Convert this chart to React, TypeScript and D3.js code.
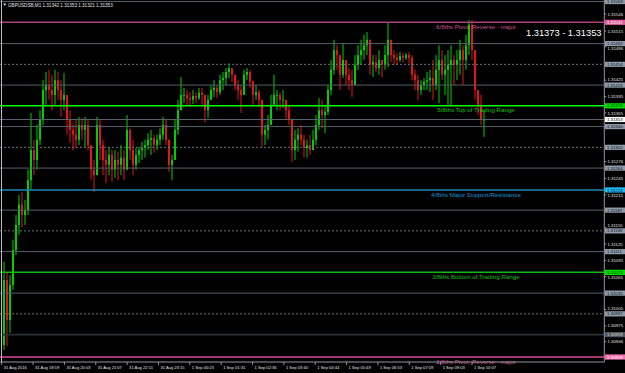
import React from "react";
import * as d3 from "d3";

// ---- data ----
const symbolTitle = "GBPUSDSB,M1  1.31342 1.31353 1.31321 1.31353";
const rangeText = "1.31373 - 1.31353";
const firstOpen = 1.3094;

const highs = [
  1.31092, 1.31072, 1.31068, 1.31133, 1.31178, 1.31215, 1.3122, 1.31206, 1.31261, 1.31365,
  1.31316, 1.31343, 1.3137, 1.31425, 1.3144, 1.31444, 1.31435, 1.31444, 1.3144, 1.31425,
  1.31438, 1.31389, 1.3137, 1.31343, 1.31352, 1.31358, 1.31356, 1.31358, 1.31352, 1.31306,
  1.31279, 1.31358, 1.31352, 1.31316, 1.31297, 1.31301, 1.31297, 1.31297, 1.31294, 1.31306,
  1.31297, 1.31361, 1.31337, 1.31316, 1.31301, 1.31303, 1.31312, 1.31316, 1.31328, 1.31334,
  1.31325, 1.31325, 1.31337, 1.31358, 1.31352, 1.31316, 1.31288, 1.31352, 1.31389, 1.31431,
  1.31411, 1.31407, 1.31403, 1.31407, 1.31403, 1.31411, 1.31411, 1.31398, 1.31398, 1.31416,
  1.31425, 1.31416, 1.31435, 1.3144, 1.31447, 1.31456, 1.31447, 1.31435, 1.31425, 1.31416,
  1.31444, 1.31447, 1.31444, 1.31425, 1.31416, 1.31407, 1.3137, 1.31343, 1.31361, 1.31398,
  1.31435, 1.31407, 1.31403, 1.31407, 1.31389, 1.3138, 1.31352, 1.31334, 1.31337, 1.31343,
  1.31325, 1.31316, 1.31325, 1.31334, 1.31361, 1.31392, 1.31389, 1.3138, 1.31416, 1.31462,
  1.31499, 1.31489, 1.31471, 1.31493, 1.31453, 1.31447, 1.31444, 1.31471, 1.31489, 1.31499,
  1.31508, 1.31513, 1.31489, 1.31471, 1.31471, 1.3148, 1.31462, 1.31489, 1.3153, 1.31489,
  1.3148, 1.31475, 1.31477, 1.31475, 1.31475, 1.31477, 1.31471, 1.31444, 1.31435, 1.31425,
  1.31429, 1.3144, 1.31444, 1.31462, 1.31471, 1.31489, 1.3148, 1.31471, 1.3148, 1.31489,
  1.31471, 1.3148, 1.31499, 1.31489, 1.31508, 1.31535, 1.31535, 1.3148, 1.31407, 1.31398,
  1.3137,
];
const lows = [
  1.30931, 1.30937, 1.30962, 1.31041, 1.31105, 1.31142, 1.31155, 1.3116, 1.31178, 1.31224,
  1.31251, 1.31261, 1.31306, 1.31343, 1.3138, 1.31389, 1.3137, 1.3138, 1.31389, 1.31358,
  1.3137, 1.31325, 1.3131, 1.31297, 1.31301, 1.31306, 1.31316, 1.31303, 1.31297, 1.31242,
  1.3122, 1.31261, 1.31279, 1.31251, 1.31237, 1.31251, 1.31239, 1.31246, 1.31242, 1.31251,
  1.31242, 1.3127, 1.31279, 1.31251, 1.31261, 1.31273, 1.31279, 1.31283, 1.31297, 1.31288,
  1.31292, 1.31297, 1.31306, 1.31316, 1.31306, 1.31257, 1.31242, 1.31279, 1.31325, 1.3138,
  1.31383, 1.3138, 1.31376, 1.31381, 1.31383, 1.31389, 1.3138, 1.31348, 1.31356, 1.31389,
  1.31394, 1.31392, 1.31398, 1.31407, 1.31416, 1.31429, 1.31422, 1.31407, 1.31389, 1.31365,
  1.31398, 1.31425, 1.31411, 1.3138, 1.31389, 1.31376, 1.31303, 1.31306, 1.31316, 1.31343,
  1.3138, 1.3137, 1.3137, 1.31374, 1.31352, 1.31343, 1.31275, 1.31279, 1.31294, 1.31306,
  1.31284, 1.31283, 1.31288, 1.31297, 1.31306, 1.31334, 1.31337, 1.31328, 1.31361, 1.31398,
  1.31435, 1.31444, 1.31407, 1.31429, 1.31416, 1.31407, 1.31394, 1.31425, 1.31444, 1.31453,
  1.31462, 1.31471, 1.31435, 1.31431, 1.3144, 1.31435, 1.31431, 1.31444, 1.31449, 1.31458,
  1.31453, 1.31453, 1.31458, 1.31458, 1.31462, 1.31456, 1.31425, 1.31407, 1.31389, 1.31398,
  1.31407, 1.31407, 1.31403, 1.31389, 1.31407, 1.31383, 1.31425, 1.31398, 1.3138, 1.31376,
  1.31416, 1.31425, 1.31435, 1.31416, 1.31444, 1.31471, 1.31462, 1.31389, 1.31361, 1.31343,
  1.31321,
];
const closes = [
  1.31059, 1.30986, 1.3105, 1.31114, 1.3116, 1.31197, 1.31178, 1.31187, 1.31242, 1.31297,
  1.31279, 1.31316, 1.31352, 1.31407, 1.31416, 1.31407, 1.31398, 1.31425, 1.31407, 1.31389,
  1.31398, 1.31352, 1.31334, 1.31325, 1.31316, 1.31343, 1.31334, 1.31343, 1.31306, 1.31261,
  1.31251, 1.31343, 1.31306, 1.31279, 1.3127, 1.31288, 1.31261, 1.31279, 1.3127, 1.31283,
  1.31261, 1.31334, 1.31297, 1.3127, 1.31288, 1.31297, 1.31301, 1.31306, 1.31316, 1.31319,
  1.31306, 1.31316, 1.31325, 1.31343, 1.31316, 1.3127, 1.31279, 1.31334, 1.3137, 1.31398,
  1.31398, 1.31392, 1.31389, 1.31396, 1.31392, 1.31402, 1.31398, 1.3137, 1.31389, 1.31407,
  1.31411, 1.31403, 1.31425, 1.31429, 1.3144, 1.31447, 1.31435, 1.31416, 1.31407, 1.31398,
  1.31435, 1.3144, 1.31422, 1.31398, 1.31403, 1.31389, 1.31325, 1.31334, 1.31343, 1.3138,
  1.31398, 1.31398, 1.31389, 1.31389, 1.3137, 1.31352, 1.31297, 1.31316, 1.31325, 1.31316,
  1.31301, 1.31306, 1.31297, 1.31316, 1.31343, 1.3137, 1.31361, 1.31367, 1.31407, 1.31444,
  1.3148, 1.31471, 1.31435, 1.31462, 1.31435, 1.31425, 1.31416, 1.31453, 1.31471, 1.3148,
  1.31489, 1.31499, 1.31453, 1.31458, 1.31447, 1.31462, 1.31453, 1.31471, 1.31499, 1.31471,
  1.31466, 1.31462, 1.31469, 1.31466, 1.31471, 1.31466, 1.31435, 1.31425, 1.31407, 1.31416,
  1.31422, 1.31425, 1.31429, 1.31416, 1.31444, 1.31462, 1.31435, 1.31444, 1.31453, 1.31462,
  1.31453, 1.31462, 1.3148, 1.31462, 1.31489, 1.31526, 1.3148, 1.31407, 1.3138, 1.31352,
  1.31353,
];

const levelValues = [
  1.31569, 1.31531, 1.31492, 1.31454, 1.31416, 1.31378, 1.31353, 1.3134, 1.31302, 1.31264,
  1.31224, 1.31187, 1.31149, 1.31111, 1.31073, 1.31035, 1.30997, 1.30959, 1.30918,
];
const levelKinds = [
  "gray", "pinkTop", "gray", "dot", "gray", "green", "bid", "gray", "dot", "gray",
  "blue", "gray", "dot", "gray", "green2", "gray", "dot", "dark", "pinkBot",
];
const levelNotes = [
  "", "6/8ths Pivot, Reverse - major", "", "", "", "5/8ths Top of Trading Range", "", "", "", "",
  "4/8ths Major Support/Resistance", "", "", "", "3/8ths Bottom of Trading Range", "", "", "", "2/8ths Pivot, Reverse - major",
];

const tickValues = [
  1.31546, 1.31515, 1.31486, 1.31455, 1.31425, 1.31395, 1.31365, 1.31335, 1.31305, 1.31276,
  1.31245, 1.31215, 1.31185, 1.31155, 1.31125, 1.31095, 1.31065, 1.31035, 1.31005, 1.30975,
  1.30946, 1.30915,
];

const timeLabels = [
  "31 Aug 2016", "31 Aug 18:59", "31 Aug 20:03", "31 Aug 21:07", "31 Aug 22:11", "31 Aug 23:15",
  "1 Sep 00:23", "1 Sep 01:31", "1 Sep 02:36", "1 Sep 03:40", "1 Sep 04:44", "1 Sep 05:49",
  "1 Sep 06:53", "1 Sep 07:59", "1 Sep 09:03", "1 Sep 10:07",
];

// ---- styles ----
const STYLE: Record<string, { line: string; w: number; dash?: string; box: string; txt: string; note?: string }> = {
  gray: { line: "#56606c", w: 1, box: "#8e9aa8", txt: "#101010" },
  dot: { line: "#6c727a", w: 1, dash: "2,2", box: "#8e9aa8", txt: "#101010" },
  pinkTop: { line: "#a8447a", w: 1.5, box: "#e0609e", txt: "#ffffff", note: "#c8558f" },
  pinkBot: { line: "#d8489a", w: 1.5, box: "#f070b0", txt: "#ffffff", note: "#d04c94" },
  green: { line: "#00ff00", w: 1.5, box: "#00e000", txt: "#003000", note: "#10c010" },
  green2: { line: "#10b810", w: 1.5, box: "#00e000", txt: "#003000", note: "#10c010" },
  blue: { line: "#1e88b8", w: 1.5, box: "#20b8f0", txt: "#002030", note: "#1e90d0" },
  bid: { line: "#5a6470", w: 1, box: "#ffffff", txt: "#000000" },
  dark: { line: "#2c3036", w: 1.6, box: "#505860", txt: "#d0d0d0" },
};

const FONT = "'Liberation Sans', Arial, sans-serif";
const W = 625;
const H = 373;
const AXIS_X = 604.3;
const BOTTOM_Y = 362;

export default function App() {
  const x = d3.scaleLinear().domain([0, closes.length - 1]).range([4, 484]);
  const y = d3.scaleLinear().domain([1.30918, 1.31531]).range([357, 22.3]);
  const tx = d3.scalePoint<string>().domain(timeLabels).range([1.7, 472]);

  // plain axis labels: hidden where a level box covers them, nudged clear of near boxes
  const visibleTicks = tickValues
    .filter((v) => !levelValues.some((l) => Math.abs(y(v) - y(l)) < 3.0))
    .map((v) => {
      const yy = y(v);
      let shift = 0;
      levelValues.forEach((l) => {
        const d = yy - y(l);
        if (Math.abs(d) < 5.2) shift = Math.sign(d) * (5.2 - Math.abs(d));
      });
      return { v, yy, ty: yy + shift };
    });

  return (
    <svg
      width={W}
      height={H}
      style={{ position: "fixed", left: 0, top: 0, background: "#000", display: "block" }}
    >
      <rect x={0} y={0} width={W} height={H} fill="#000" />
      <defs>
        <clipPath id="plot">
          <rect x={0} y={0} width={AXIS_X} height={BOTTOM_Y} />
        </clipPath>
      </defs>

      {/* candles */}
      <g clipPath="url(#plot)">
        {closes.map((c, i) => {
          const o = i === 0 ? firstOpen : closes[i - 1];
          const up = c >= o;
          const col = up ? "#00e800" : "#ff1a1a";
          const cx = x(i);
          const hi = Math.max(highs[i], o, c);
          const lo = Math.min(lows[i], o, c);
          const yt = y(Math.max(o, c));
          const yb = y(Math.min(o, c));
          return (
            <g key={i}>
              <line x1={cx} x2={cx} y1={y(hi)} y2={y(lo)} stroke={col} strokeWidth={0.9} />
              <rect x={cx - 0.8} y={yt} width={1.6} height={Math.max(1, yb - yt)} fill={col} />
            </g>
          );
        })}
      </g>

      {/* level lines */}
      {levelValues.map((v, i) => {
        const s = STYLE[levelKinds[i]];
        const yy = y(v);
        return (
          <line
            key={"l" + i}
            x1={0}
            x2={AXIS_X}
            y1={yy}
            y2={yy}
            stroke={s.line}
            strokeWidth={s.w}
            strokeDasharray={s.dash}
          />
        );
      })}

      {/* level notes */}
      {levelValues.map((v, i) => {
        const note = levelNotes[i];
        if (!note) return null;
        const s = STYLE[levelKinds[i]];
        return (
          <text
            key={"n" + i}
            x={476}
            y={y(v) + 6.6}
            textAnchor="middle"
            fontFamily={FONT}
            fontSize={6.2}
            fill={s.note}
          >
            {note}
          </text>
        );
      })}

      {/* range text */}
      <text x={526} y={36} fontFamily={FONT} fontSize={9.3} fill="#ffffff">
        {rangeText}
      </text>

      {/* title */}
      <path d="M3.2,3.6 L6.4,3.6 L4.8,6 Z" fill="#d0d0d0" />
      <text x={8} y={6.8} fontFamily={FONT} fontSize={4.6} fill="#e0e0e0">
        {symbolTitle}
      </text>

      {/* borders / axes */}
      <line x1={1.5} x2={1.5} y1={0} y2={BOTTOM_Y} stroke="#b8bcc0" strokeWidth={1} />
      <line x1={AXIS_X} x2={AXIS_X} y1={0} y2={BOTTOM_Y} stroke="#9098a0" strokeWidth={1} />
      <line x1={0} x2={AXIS_X} y1={BOTTOM_Y} y2={BOTTOM_Y} stroke="#9098a0" strokeWidth={1} />

      {/* right axis plain ticks */}
      {visibleTicks.map((t, i) => (
        <g key={"t" + i}>
          <line x1={AXIS_X} x2={AXIS_X + 2} y1={t.yy} y2={t.yy} stroke="#b0b0b0" strokeWidth={0.8} />
          <text x={607.5} y={t.ty + 1.6} fontFamily={FONT} fontSize={4.3} fill="#e0e0e0">
            {t.v.toFixed(5)}
          </text>
        </g>
      ))}

      {/* right axis boxed level labels */}
      {levelValues.map((v, i) => {
        const s = STYLE[levelKinds[i]];
        const yy = y(v);
        return (
          <g key={"b" + i}>
            <rect x={605} y={yy - 2.6} width={21} height={5.2} fill={s.box} />
            <text x={607} y={yy + 1.6} fontFamily={FONT} fontSize={4.3} fill={s.txt}>
              {v.toFixed(5)}
            </text>
          </g>
        );
      })}

      {/* time axis */}
      {timeLabels.map((t) => {
        const xx = tx(t) as number;
        return (
          <g key={t}>
            <line x1={xx} x2={xx} y1={BOTTOM_Y} y2={BOTTOM_Y + 3} stroke="#b0b0b0" strokeWidth={0.8} />
            <text x={xx + 2} y={368.8} fontFamily={FONT} fontSize={4.1} fill="#e0e0e0">
              {t}
            </text>
          </g>
        );
      })}
    </svg>
  );
}
